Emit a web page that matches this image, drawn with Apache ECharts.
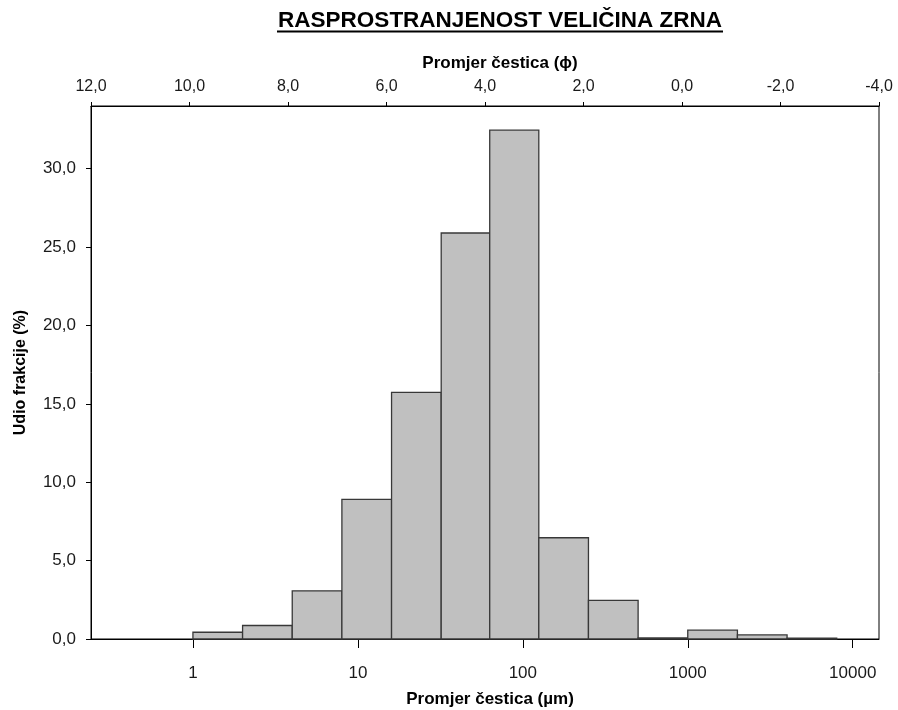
<!DOCTYPE html>
<html>
<head>
<meta charset="utf-8">
<script src="https://cdn.jsdelivr.net/npm/echarts@6/dist/echarts.min.js"></script>
<style>
  html, body { margin: 0; padding: 0; background: #fff; }
  #chart { width: 898px; height: 710px; }
</style>
</head>
<body>
<div id="chart"></div>
<script>
// Grain size classes (µm) and the share of each fraction (%)
const binLower = [1, 2, 4, 8, 16, 32, 63, 125, 250, 500, 1000, 2000, 4000];
const binUpper = [2, 4, 8, 16, 32, 63, 125, 250, 500, 1000, 2000, 4000, 8000];
const fractionShare = [0.43, 0.86, 3.07, 8.91, 15.73, 25.9, 32.46, 6.46, 2.47, 0.07, 0.56, 0.26, 0.05];

// Axis ticks
const micronTicks = [1, 10, 100, 1000, 10000];
const percentTicks = [0, 5, 10, 15, 20, 25, 30];

const FONT = '"Liberation Sans", Arial, sans-serif';
const comma1 = v => v.toFixed(1).replace('.', ',');

const chart = echarts.init(document.getElementById('chart'), null, { renderer: 'canvas' });

const histData = binLower.map((lo, i) => [lo, binUpper[i], fractionShare[i]]);

chart.setOption({
  backgroundColor: '#fff',
  animation: false,
  graphic: [
    {
      type: 'text',
      style: {
        x: 500,
        y: 21,
        text: 'RASPROSTRANJENOST VELIČINA ZRNA',
        font: 'bold 22.5px ' + FONT,
        fill: '#000',
        align: 'center',
        verticalAlign: 'middle'
      }
    },
    {
      type: 'line',
      shape: { x1: 277, y1: 31.5, x2: 723, y2: 31.5 },
      style: { stroke: '#000', lineWidth: 2 }
    }
  ],
  grid: {
    left: 91, right: 19, top: 106, bottom: 71,
    outerBoundsMode: 'none',
    containLabel: false,
    show: true, borderColor: '#000', borderWidth: 1, backgroundColor: '#fff'
  },
  xAxis: [
    {
      type: 'log',
      logBase: 10,
      position: 'bottom',
      min: 0.241,
      max: 14434,
      name: 'Promjer čestica (µm)',
      nameLocation: 'middle',
      nameGap: 52,
      nameTextStyle: { fontFamily: FONT, fontWeight: 'bold', fontSize: 17, color: '#000', padding: [0, 0, 0, 10] },
      axisLine: { show: true, onZero: false, lineStyle: { color: '#000', width: 1 } },
      axisTick: { show: true, inside: false, length: 9, lineStyle: { color: '#000' }, customValues: micronTicks },
      axisLabel: {
        customValues: micronTicks,
        margin: 26,
        fontFamily: FONT, fontSize: 17, color: '#1a1a1a',
        formatter: v => String(Math.round(v))
      },
      minorTick: { show: false },
      splitLine: { show: false }
    },
    {
      type: 'value',
      position: 'top',
      inverse: true,
      min: -4,
      max: 12,
      interval: 2,
      name: 'Promjer čestica (ϕ)',
      nameLocation: 'middle',
      nameGap: 34,
      nameTextStyle: { fontFamily: FONT, fontWeight: 'bold', fontSize: 17, color: '#000', padding: [0, 0, 0, 30] },
      axisLine: { show: true, onZero: false, lineStyle: { color: '#000', width: 1 } },
      axisTick: { show: true, inside: false, length: 4, lineStyle: { color: '#000' } },
      axisLabel: { margin: 11, fontFamily: FONT, fontSize: 16, color: '#1a1a1a', formatter: comma1 },
      splitLine: { show: false }
    }
  ],
  yAxis: {
    type: 'value',
    position: 'left',
    min: 0,
    max: 34,
    name: 'Udio frakcije (%)',
    nameLocation: 'middle',
    nameGap: 62,
    nameTextStyle: { fontFamily: FONT, fontWeight: 'bold', fontSize: 16, color: '#000' },
    axisLine: { show: true, onZero: false, lineStyle: { color: '#000', width: 1 } },
    axisTick: { show: true, inside: false, length: 5, lineStyle: { color: '#000' }, customValues: percentTicks },
    axisLabel: { customValues: percentTicks, margin: 15, fontFamily: FONT, fontSize: 17, color: '#1a1a1a', formatter: comma1 },
    splitLine: { show: false }
  },
  series: [
    {
      type: 'custom',
      xAxisIndex: 0,
      yAxisIndex: 0,
      data: histData,
      encode: { x: [0, 1], y: 2 },
      renderItem: (params, api) => {
        const p0 = api.coord([api.value(0), 0]);
        const p1 = api.coord([api.value(1), api.value(2)]);
        return {
          type: 'rect',
          shape: { x: p0[0], y: p1[1], width: p1[0] - p0[0], height: p0[1] - p1[1] },
          style: { fill: '#c0c0c0', stroke: '#383838', lineWidth: 1.3 }
        };
      }
    }
  ]
});
</script>
</body>
</html>
